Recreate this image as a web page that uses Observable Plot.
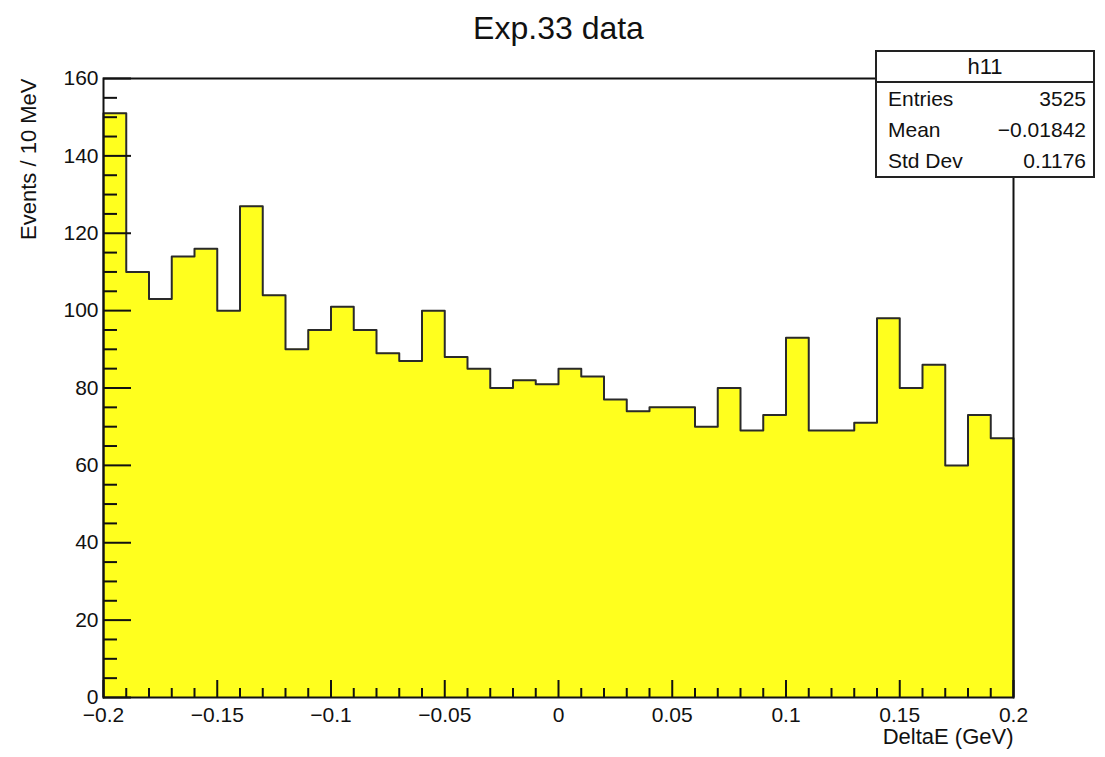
<!DOCTYPE html>
<html>
<head>
<meta charset="utf-8">
<script src="https://cdn.jsdelivr.net/npm/d3@7"></script>
<script src="https://cdn.jsdelivr.net/npm/@observablehq/plot@0.6"></script>
<style>
  html, body { margin: 0; padding: 0; background: #fff; }
  #wrap { position: relative; width: 1105px; height: 757px; font-family: "Liberation Sans", Arial, Helvetica, sans-serif; }
  #stats {
    position: absolute; left: 875px; top: 50px; width: 216px; height: 124px;
    background: #fff; border: 2px solid #222; color: #111; font-size: 21px;
  }
  #stats .head { height: 29px; line-height: 29px; text-align: center; border-bottom: 2px solid #222; font-size: 22px; }
  #stats .row { display: flex; justify-content: space-between; height: 31px; line-height: 31px; padding: 0 7px 0 11px; }
</style>
</head>
<body>
<div id="wrap"></div>
<script>
// Histogram h11: DeltaE, 40 bins of 10 MeV over [-0.2, 0.2] GeV
const histName = "h11";
const title = "Exp.33 data";
const xTitle = "DeltaE (GeV)";
const yTitle = "Events / 10 MeV";
const xRange = [-0.2, 0.2];
const binWidth = 0.01;
const counts = [
  151, 110, 103, 114, 116, 100, 127, 104, 90, 95,
  101, 95, 89, 87, 100, 88, 85, 80, 82, 81,
  85, 83, 77, 74, 75, 75, 70, 80, 69, 73,
  93, 69, 69, 71, 98, 80, 86, 60, 73, 67
];
const statLabels = ["Entries", "Mean", "Std Dev"];
const statValues = ["3525", "\u22120.01842", "0.1176"];
const xMajorTicks = [-0.2, -0.15, -0.1, -0.05, 0, 0.05, 0.1, 0.15, 0.2];
const yMajorTicks = [0, 20, 40, 60, 80, 100, 120, 140, 160];

// Step outline: rise at the left edge, one level per bin, drop at the right edge
const edges = counts.map((_, i) => xRange[0] + i * binWidth);
const outline = [{x: xRange[0], y: 0}]
  .concat(counts.map((c, i) => ({x: edges[i], y: c})))
  .concat([{x: xRange[1], y: counts[counts.length - 1]}, {x: xRange[1], y: 0}]);

const W = 1105, H = 757;
const mL = 103, mR = 92, mT = 78, mB = 60;
const plotW = W - mL - mR, plotH = H - mT - mB;

const xMinor = d3.range(-19, 20).map(k => k / 100).filter(v => Math.abs(Math.round(v * 100) % 5) !== 0);
const yMinor = d3.range(0, 161, 5).filter(v => v % 20 !== 0);

const fmtX = d => d === 0 ? "0" : String(+d.toFixed(2)).replace("-", "\u2212");
const font = "'Liberation Sans', Arial, Helvetica, sans-serif";

const chart = Plot.plot({
  width: W, height: H,
  marginLeft: mL, marginRight: mR, marginTop: mT, marginBottom: mB,
  style: {fontFamily: font, fontSize: "21px", color: "#111", background: "#fff"},
  x: {domain: xRange},
  y: {domain: [0, 160]},
  marks: [
    Plot.areaY(outline, {x: "x", y: "y", curve: "step-after", fill: "#ffff1e"}),
    Plot.lineY(outline, {x: "x", y: "y", curve: "step-after", stroke: "#2a2a2a", strokeWidth: 2}),
    Plot.frame({stroke: "#111", strokeWidth: 2}),
    // inward ticks
    Plot.ruleX(xMajorTicks, {x: d => d, insetTop: plotH - 17, stroke: "#111", strokeWidth: 2}),
    Plot.ruleX(xMinor, {x: d => d, insetTop: plotH - 9, stroke: "#111", strokeWidth: 2}),
    Plot.ruleY(yMajorTicks, {y: d => d, insetRight: plotW - 28, stroke: "#111", strokeWidth: 2}),
    Plot.ruleY(yMinor, {y: d => d, insetRight: plotW - 14, stroke: "#111", strokeWidth: 2}),
    Plot.axisX({ticks: xMajorTicks, tickSize: 0, tickPadding: 10, tickFormat: fmtX, fontSize: 21, label: null}),
    Plot.axisY({ticks: yMajorTicks, tickSize: 0, tickPadding: 5, tickFormat: d => String(d), fontSize: 21, label: null}),
    Plot.text([title], {frameAnchor: "top", dy: -50, lineAnchor: "middle", fontSize: 32, fill: "#111", text: d => d}),
    Plot.text([xTitle], {frameAnchor: "bottom-right", textAnchor: "end", dy: 39, lineAnchor: "middle", fontSize: 22, fill: "#111", text: d => d}),
    Plot.text([yTitle], {frameAnchor: "top-left", textAnchor: "end", rotate: -90, dx: -75, lineAnchor: "middle", fontSize: 22, fill: "#111", text: d => d})
  ]
});

const wrap = document.getElementById("wrap");
wrap.appendChild(chart);

// statistics box
const box = document.createElement("div");
box.id = "stats";
const head = document.createElement("div");
head.className = "head";
head.textContent = histName;
box.appendChild(head);
statLabels.forEach((lab, i) => {
  const row = document.createElement("div");
  row.className = "row";
  const a = document.createElement("span"); a.textContent = lab;
  const b = document.createElement("span"); b.textContent = statValues[i];
  row.appendChild(a); row.appendChild(b);
  box.appendChild(row);
});
wrap.appendChild(box);
</script>
</body>
</html>
